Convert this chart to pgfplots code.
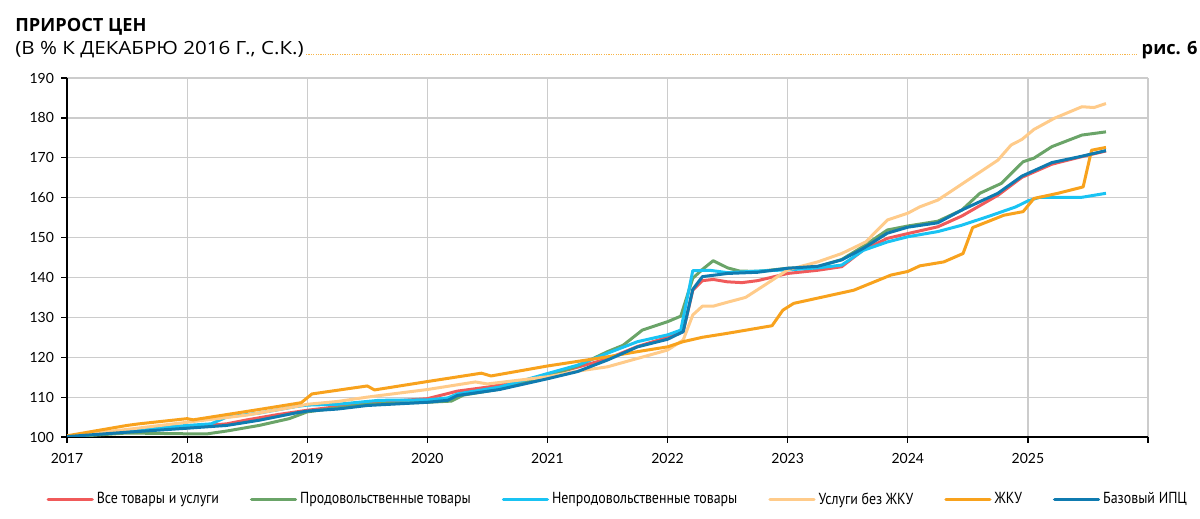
\documentclass[border=0pt]{standalone}
\usepackage{fontspec}
\usepackage{pgfplots}
\pgfplotsset{compat=1.18}
\setmainfont{PT Sans}
\newfontfamily\headfont{Open Sans}
\newfontfamily\subfont{Open Sans}[FakeStretch=1.13]
\newfontfamily\legfont{PT Sans}[FakeStretch=0.87]
\newfontfamily\tickfont{Lato}

\definecolor{cAll}{RGB}{240,90,90}
\definecolor{cFood}{RGB}{106,164,104}
\definecolor{cNonfood}{RGB}{25,195,243}
\definecolor{cServ}{RGB}{255,203,138}
\definecolor{cHous}{RGB}{248,162,29}
\definecolor{cCore}{RGB}{15,123,176}
\definecolor{cDot}{RGB}{247,182,75}

\begin{document}
\begin{tikzpicture}
\useasboundingbox (0,0) rectangle (600pt,259.5pt);

% title block
\node[anchor=base west, inner sep=0, font=\headfont\bfseries\fontsize{9.1}{10}\selectfont] at (7.5pt,243.6pt) {ПРИРОСТ ЦЕН};
\node[anchor=base west, inner sep=0, font=\subfont\fontsize{9.1}{10}\selectfont] (sub) at (7.5pt,232pt) {(В \% К ДЕКАБРЮ 2016 Г., С.К.)};
\node[anchor=base east, inner sep=0, font=\headfont\bfseries\fontsize{9.1}{10}\selectfont] (fig) at (599pt,232pt) {рис. 6};
\draw[cDot, line width=0.6pt, dash pattern=on 0.6pt off 0.6pt] ([xshift=1pt,yshift=0.4pt]sub.base east) -- ([xshift=-2pt,yshift=0.4pt]fig.base west);

\begin{axis}[
    at={(33.5pt,41pt)}, anchor=south west,
    scale only axis,
    width=540.5pt, height=179.5pt,
    xmin=2017, xmax=2026,
    ymin=100, ymax=190,
    xtick={2017,2018,2019,2020,2021,2022,2023,2024,2025,2026},
    xticklabels={2017,2018,2019,2020,2021,2022,2023,2024,2025,},
    ytick={100,110,...,190},
    axis x line*=bottom, axis y line*=left,
    axis line style={black, line width=0.7pt},
    grid=major,
    major grid style={gray!40, line width=0.6pt},
    tick align=outside,
    major tick length=3pt,
    tick style={black, line width=0.6pt},
    ticklabel style={font=\tickfont\fontsize{7}{8}\selectfont},
    xticklabel style={yshift=-1.5pt},
    /pgf/number format/assume math mode=true,
    /pgf/number format/1000 sep={},
    legend columns=6,
    legend style={at={(0.51,-0.175)}, anchor=center, draw=none, fill=none,
        font=\legfont\fontsize{8}{9}\selectfont, inner sep=0pt,
        nodes={inner sep=1.5pt},
        /tikz/every even column/.append style={column sep=14pt}},
    legend image code/.code={\draw[#1, line width=1.6pt, line cap=round] (0pt,0pt) -- (22pt,0pt);},
    every axis plot/.append style={line width=1.5pt, line join=round},
]

% все товары и услуги
\addplot[cAll] coordinates {
(2017.0,100.1) (2017.5,101.4) (2018.0,102.5) (2018.33,103.3) (2018.5,104.3)
(2018.75,105.6) (2019.0,106.7) (2019.25,107.6) (2019.5,108.5) (2019.75,109.1)
(2020.0,109.6) (2020.25,111.5) (2020.5,112.5) (2020.75,113.8) (2021.0,115.5)
(2021.25,117.5) (2021.5,119.6) (2021.75,122.7) (2022.0,125.0) (2022.13,126.4)
(2022.21,136.8) (2022.29,139.2) (2022.38,139.5) (2022.5,138.9) (2022.62,138.7)
(2022.75,139.2) (2023.0,141.0) (2023.25,141.8) (2023.45,142.7) (2023.63,146.9)
(2023.83,149.8) (2024.0,151.0) (2024.25,152.7) (2024.45,155.4) (2024.75,160.6)
(2024.95,165.1) (2025.2,168.4) (2025.45,170.3) (2025.65,171.7)
};
\addlegendentry{Все товары и услуги}

% продовольственные
\addplot[cFood] coordinates {
(2017.0,100.0) (2017.25,100.5) (2017.5,101.0) (2018.0,100.8) (2018.17,100.8)
(2018.33,101.5) (2018.6,102.9) (2018.85,104.6) (2019.0,106.3) (2019.25,107.3)
(2019.5,108.2) (2019.75,108.5) (2020.0,108.7) (2020.2,109.0) (2020.3,110.5)
(2020.6,112.0) (2021.0,115.2) (2021.25,117.8) (2021.5,121.4) (2021.63,123.0)
(2021.79,126.8) (2022.0,128.9) (2022.11,130.3) (2022.21,139.8) (2022.29,142.0)
(2022.38,144.2) (2022.5,142.4) (2022.6,141.6) (2022.75,141.5) (2023.0,142.3)
(2023.25,142.7) (2023.45,144.5) (2023.63,147.8) (2023.83,151.9) (2024.0,152.9)
(2024.25,154.1) (2024.45,156.9) (2024.6,161.1) (2024.78,163.6) (2024.96,169.0)
(2025.05,169.9) (2025.2,172.8) (2025.45,175.7) (2025.65,176.5)
};
\addlegendentry{Продовольственные товары}

% непродовольственные
\addplot[cNonfood] coordinates {
(2017.0,100.2) (2017.5,101.7) (2018.0,102.9) (2018.2,103.3) (2018.33,105.0)
(2018.6,106.0) (2018.9,107.6) (2019.0,108.0) (2019.25,108.2) (2019.6,109.2)
(2020.0,109.3) (2020.17,109.8) (2020.25,110.8) (2020.6,112.5) (2021.0,115.9)
(2021.25,118.0) (2021.5,121.0) (2021.75,123.9) (2022.0,125.6) (2022.11,126.8)
(2022.21,141.7) (2022.35,141.8) (2022.5,141.2) (2022.75,141.6) (2023.0,141.9)
(2023.25,142.4) (2023.45,143.1) (2023.63,146.8) (2023.83,148.9) (2024.0,150.2)
(2024.25,151.5) (2024.45,153.1) (2024.7,155.6) (2024.9,157.7) (2025.0,159.2)
(2025.1,160.1) (2025.45,160.1) (2025.65,161.1)
};
\addlegendentry{Непродовольственные товары}

% услуги без ЖКУ
\addplot[cServ] coordinates {
(2017.0,100.2) (2017.5,101.9) (2018.0,103.7) (2018.5,105.5) (2018.9,107.6)
(2019.0,108.2) (2019.25,108.9) (2019.5,110.0) (2020.0,111.9) (2020.4,113.8)
(2020.5,113.3) (2021.0,115.1) (2021.25,116.5) (2021.5,117.6) (2021.75,119.7)
(2022.0,121.8) (2022.13,124.3) (2022.21,130.6) (2022.29,132.8) (2022.38,132.8)
(2022.5,133.8) (2022.65,135.0) (2022.83,138.5) (2023.0,141.9) (2023.25,143.9)
(2023.45,146.0) (2023.65,148.9) (2023.83,154.4) (2024.0,156.1) (2024.1,157.7)
(2024.25,159.4) (2024.5,164.4) (2024.75,169.4) (2024.86,173.2) (2024.95,174.6)
(2025.05,177.1) (2025.22,179.9) (2025.45,182.8) (2025.55,182.6) (2025.65,183.6)
};
\addlegendentry{Услуги без ЖКУ}

% ЖКУ
\addplot[cHous] coordinates {
(2017.0,100.3) (2017.5,102.9) (2017.6,103.3) (2018.0,104.6) (2018.05,104.3)
(2018.6,106.9) (2018.95,108.6) (2019.04,110.8) (2019.5,112.8) (2019.56,111.8)
(2020.0,113.9) (2020.45,116.0) (2020.53,115.3) (2021.0,117.8) (2021.5,120.1)
(2021.75,121.4) (2022.0,122.6) (2022.13,123.9) (2022.29,125.0) (2022.5,126.0)
(2022.87,127.9) (2022.96,131.8) (2023.05,133.5) (2023.55,136.8) (2023.86,140.6)
(2024.0,141.5) (2024.1,142.9) (2024.3,143.9) (2024.46,146.0) (2024.54,152.5)
(2024.7,154.4) (2024.8,155.6) (2024.96,156.5) (2025.05,159.8) (2025.25,161.1)
(2025.46,162.7) (2025.53,171.9) (2025.65,172.6)
};
\addlegendentry{ЖКУ}

% базовый ИПЦ
\addplot[cCore] coordinates {
(2017.0,100.1) (2017.5,101.2) (2018.0,102.2) (2018.33,102.9) (2018.6,104.2)
(2018.9,106.0) (2019.0,106.5) (2019.25,107.0) (2019.5,107.9) (2020.0,108.7)
(2020.17,109.2) (2020.25,110.4) (2020.6,111.9) (2021.0,114.6) (2021.25,116.4)
(2021.5,119.3) (2021.75,122.6) (2022.0,124.5) (2022.13,126.4) (2022.21,137.0)
(2022.29,140.2) (2022.5,141.0) (2022.75,141.3) (2023.0,142.3) (2023.25,142.8)
(2023.45,144.4) (2023.63,147.3) (2023.83,151.1) (2024.0,152.6) (2024.25,153.7)
(2024.45,156.9) (2024.75,161.1) (2024.95,165.4) (2025.2,168.8) (2025.45,170.4)
(2025.65,171.8)
};
\addlegendentry{Базовый ИПЦ}

\end{axis}
\end{tikzpicture}
\end{document}
